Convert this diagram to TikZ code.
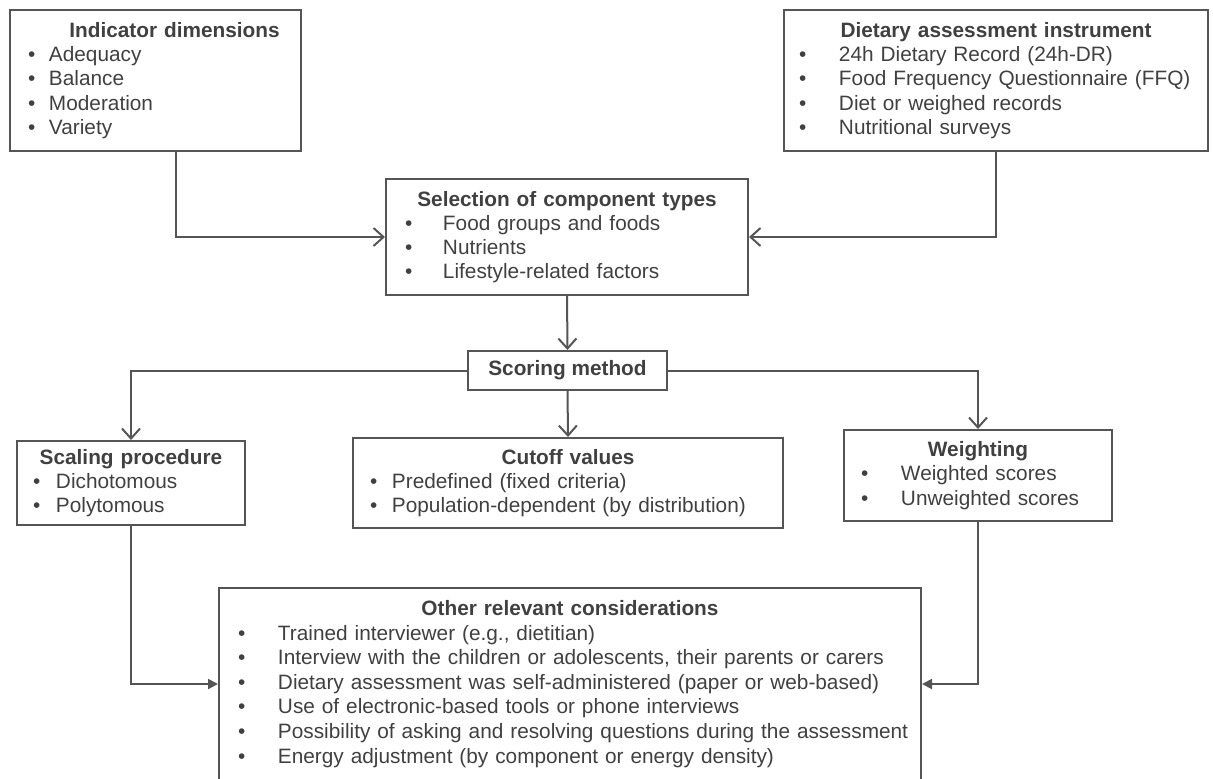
\documentclass[tikz,border=0pt]{standalone}
\usepackage{fontspec}
\setmainfont{Liberation Sans}
\usetikzlibrary{arrows.meta}
\definecolor{boxline}{HTML}{555555}
\definecolor{boxtext}{HTML}{404040}
\newcommand{\itm}[2]{\makebox[#1][l]{\textbullet}\mbox{#2}\par}
\newcommand{\ttl}[1]{{\centering\bfseries #1\par}}

\begin{document}
\begin{tikzpicture}[x=0.5pt, y=-0.5pt,
box/.style={draw=boxline, line width=1pt, inner sep=0pt, anchor=north west, align=left,
  text=boxtext, font=\fontsize{10.4}{12.1}\selectfont},
vee/.style={draw=boxline, line width=1pt, -{Straight Barb[length=5pt,width=9pt]}},
tri/.style={draw=boxline, line width=1pt, -{Triangle[length=5pt,width=5pt]}}]
\useasboundingbox (0,0) rectangle (1213,778);
\node[box, minimum width=145.5pt, minimum height=70.5pt, text width=127.5pt] (ind) at (9,9)
{\ttl{\hspace*{19pt}Indicator dimensions}
\itm{10.5pt}{Adequacy}\itm{10.5pt}{Balance}\itm{10.5pt}{Moderation}\itm{10.5pt}{Variety}};
\node[box, minimum width=212pt, minimum height=70.5pt, text width=197pt] (diet) at (783,9)
{\ttl{Dietary assessment instrument}
\itm{20pt}{24h Dietary Record (24h-DR)}\itm{20pt}{Food Frequency Questionnaire (FFQ)}
\itm{20pt}{Diet or weighed records}\itm{20pt}{Nutritional surveys}};
\node[box, minimum width=181pt, minimum height=58pt, text width=162pt] (sel) at (385,178)
{\ttl{Selection of component types}
\itm{19pt}{Food groups and foods}\itm{19pt}{Nutrients}\itm{19pt}{Lifestyle-related factors}};
\node[box, minimum width=99.5pt, minimum height=19.5pt, align=center] (score) at (467,350)
{\bfseries Scoring method};
\node[box, minimum width=114pt, minimum height=42pt, text width=98pt] (scal) at (16,440)
{\ttl{Scaling procedure}
\itm{11.5pt}{Dichotomous}\itm{11.5pt}{Polytomous}};
\node[box, minimum width=215pt, minimum height=45pt, text width=198pt] (cut) at (352,437)
{\ttl{Cutoff values}
\itm{11pt}{Predefined (fixed criteria)}\itm{11pt}{Population-dependent (by distribution)}};
\node[box, minimum width=134pt, minimum height=45.5pt, text width=117pt] (wgt) at (843,429)
{\ttl{Weighting}
\itm{20pt}{Weighted scores}\itm{20pt}{Unweighted scores}};
\node[box, minimum width=351pt, minimum height=96pt, text width=332pt,
  font=\fontsize{10.4}{12.3}\selectfont] (oth) at (218,587)
{\ttl{Other relevant considerations}
\itm{20pt}{Trained interviewer (e.g., dietitian)}
\itm{20pt}{Interview with the children or adolescents, their parents or carers}
\itm{20pt}{Dietary assessment was self-administered (paper or web-based)}
\itm{20pt}{Use of electronic-based tools or phone interviews}
\itm{20pt}{Possibility of asking and resolving questions during the assessment}
\itm{20pt}{Energy adjustment (by component or energy density)}};
\draw[vee] ([xshift=10pt]ind.south) |- (sel.west);
\draw[vee] (diet.south) |- (sel.east);
\draw[vee] (sel.south) -- (score.north);
\draw[vee] (score.west) -| (scal.north);
\draw[vee] (score.south) -- (cut.north);
\draw[vee] (score.east) -| (wgt.north);
\draw[tri] (scal.south) |- (oth.west);
\draw[tri] (wgt.south) |- (oth.east);
\end{tikzpicture}
\end{document}
